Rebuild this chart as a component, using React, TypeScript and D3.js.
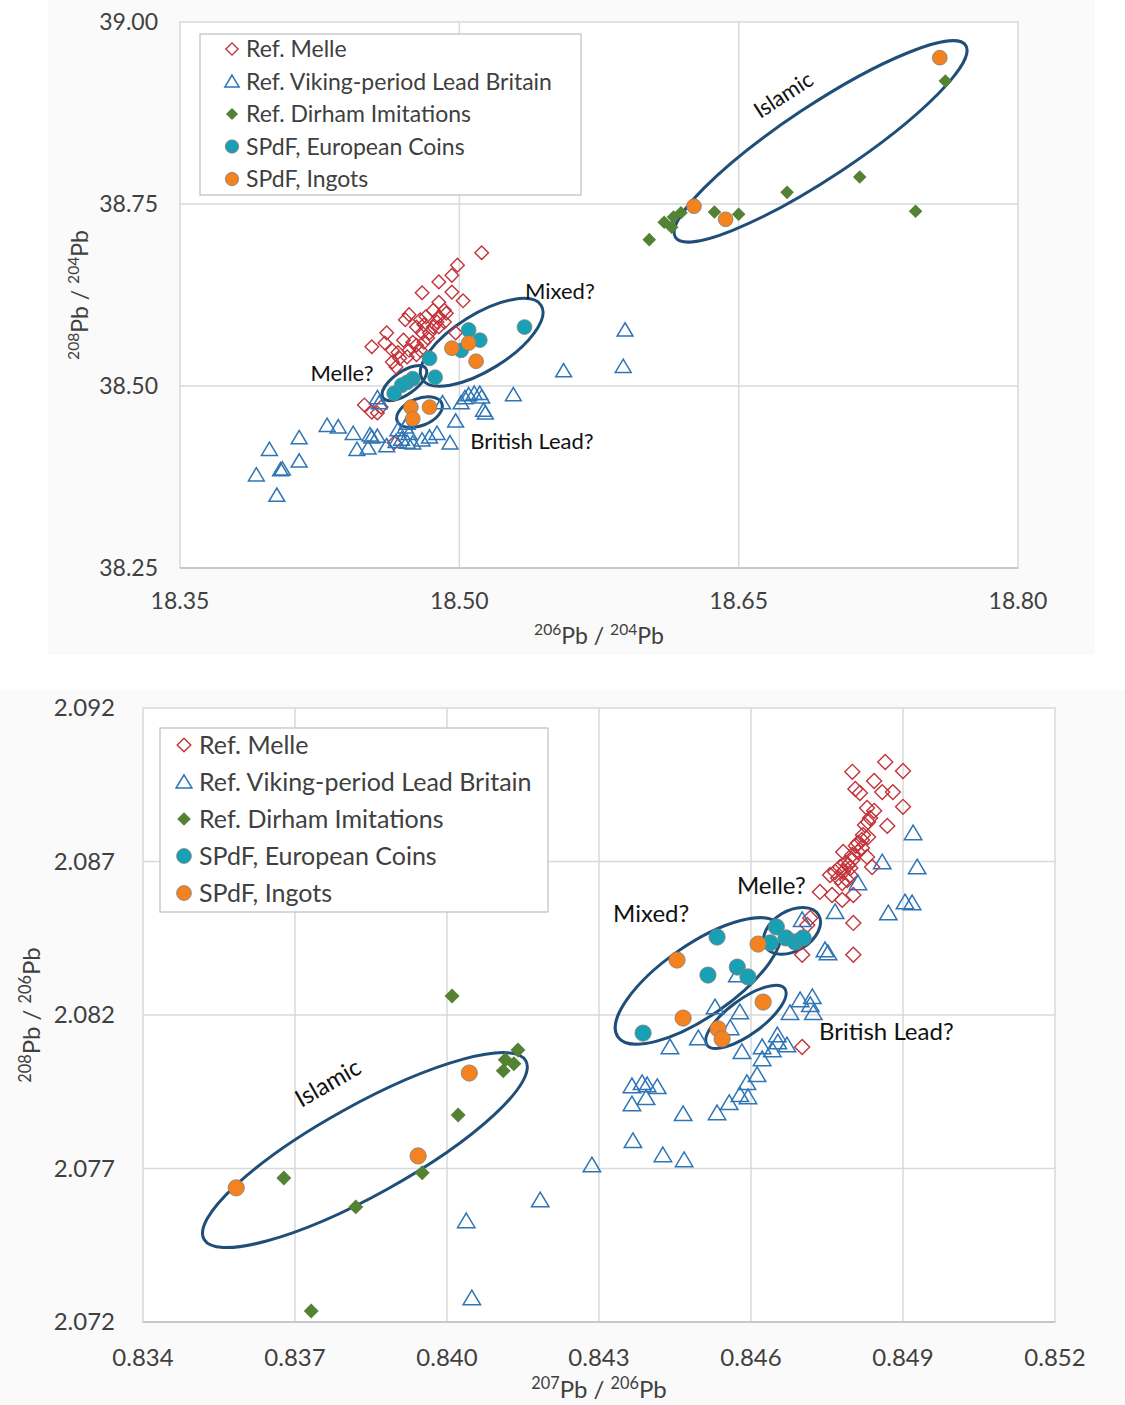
import React, { useEffect, useRef } from 'react';
import * as d3 from 'd3';

type Pt = [number, number];

// ---------- top chart: 208Pb/204Pb vs 206Pb/204Pb ----------
const topXTicks = [18.35, 18.5, 18.65, 18.8];
const topYTicks = [38.25, 38.5, 38.75, 39.0];

const topMelle: Pt[] = [
  [18.512, 38.683], [18.499, 38.666], [18.496, 38.652], [18.489, 38.643], [18.48, 38.628],
  [18.496, 38.629], [18.502, 38.617], [18.489, 38.615], [18.473, 38.598], [18.471, 38.591],
  [18.486, 38.604], [18.492, 38.604], [18.482, 38.595], [18.489, 38.595], [18.493, 38.6],
  [18.477, 38.581], [18.486, 38.581], [18.489, 38.581], [18.461, 38.573], [18.48, 38.573],
  [18.484, 38.573], [18.498, 38.573], [18.453, 38.554], [18.46, 38.559], [18.475, 38.56],
  [18.481, 38.56], [18.464, 38.549], [18.473, 38.549], [18.479, 38.549], [18.468, 38.538],
  [18.472, 38.54], [18.464, 38.533], [18.477, 38.543], [18.466, 38.526], [18.449, 38.474],
  [18.453, 38.464], [18.456, 38.463], [18.458, 38.471], [18.465, 38.422], [18.479, 38.591],
  [18.488, 38.588], [18.483, 38.566], [18.477, 38.556], [18.47, 38.563], [18.492, 38.588],
  [18.467, 38.546], [18.481, 38.584],
];
const topViking: Pt[] = [
  [18.391, 38.378], [18.398, 38.413], [18.402, 38.35], [18.405, 38.386], [18.404, 38.385],
  [18.414, 38.429], [18.414, 38.397], [18.429, 38.446], [18.435, 38.444], [18.443, 38.435],
  [18.445, 38.413], [18.451, 38.415], [18.452, 38.433], [18.453, 38.43], [18.456, 38.431],
  [18.461, 38.418], [18.466, 38.424], [18.467, 38.44], [18.469, 38.427], [18.472, 38.423],
  [18.473, 38.435], [18.475, 38.422], [18.48, 38.426], [18.484, 38.43], [18.488, 38.435],
  [18.495, 38.422], [18.498, 38.452], [18.491, 38.477], [18.501, 38.477], [18.503, 38.484],
  [18.505, 38.488], [18.508, 38.49], [18.511, 38.49], [18.512, 38.485], [18.513, 38.467],
  [18.514, 38.463], [18.529, 38.488], [18.456, 38.484], [18.457, 38.477], [18.471, 38.444],
  [18.472, 38.449], [18.556, 38.521], [18.589, 38.577], [18.588, 38.527],
];
const topDirham: Pt[] = [
  [18.602, 38.701], [18.61, 38.725], [18.614, 38.718], [18.615, 38.732], [18.619, 38.738],
  [18.637, 38.739], [18.65, 38.736], [18.676, 38.766], [18.715, 38.787], [18.745, 38.74],
  [18.761, 38.919],
];
const topCoins: Pt[] = [
  [18.505, 38.577], [18.511, 38.563], [18.501, 38.549], [18.484, 38.538], [18.487, 38.512],
  [18.535, 38.581], [18.475, 38.51], [18.472, 38.505], [18.469, 38.501], [18.465, 38.49],
];
const topIngots: Pt[] = [
  [18.626, 38.747], [18.643, 38.729], [18.758, 38.951], [18.496, 38.552], [18.505, 38.559],
  [18.509, 38.534], [18.474, 38.471], [18.484, 38.471], [18.475, 38.455],
];

// ---------- bottom chart: 208Pb/206Pb vs 207Pb/206Pb ----------
const botXTicks = [0.834, 0.837, 0.84, 0.843, 0.846, 0.849, 0.852];
const botYTicks = [2.072, 2.077, 2.082, 2.087, 2.092];

const botMelle: Pt[] = [
  [0.84865, 2.09024], [0.848, 2.08992], [0.849, 2.08995], [0.84843, 2.08962], [0.84806, 2.08936],
  [0.84815, 2.08923], [0.84859, 2.08926], [0.8488, 2.08926], [0.84829, 2.08874], [0.84843, 2.08865],
  [0.849, 2.08878], [0.84835, 2.08842], [0.84831, 2.08829], [0.84825, 2.08819], [0.84869, 2.08816],
  [0.84821, 2.08786], [0.84831, 2.0878], [0.84811, 2.0876], [0.84807, 2.08751], [0.84819, 2.08744],
  [0.84782, 2.08731], [0.848, 2.08721], [0.84829, 2.08715], [0.84786, 2.08695], [0.84776, 2.08682],
  [0.84796, 2.08679], [0.84839, 2.08682], [0.84766, 2.08666], [0.84782, 2.08666], [0.84796, 2.08656],
  [0.84756, 2.08656], [0.84772, 2.08646], [0.8479, 2.0864], [0.8478, 2.0863], [0.84736, 2.08601],
  [0.8476, 2.08591], [0.84802, 2.08591], [0.8478, 2.08575], [0.84802, 2.085], [0.84717, 2.08516],
  [0.84802, 2.08396], [0.84701, 2.08396], [0.84701, 2.08096], [0.84711, 2.08493], [0.848, 2.08705],
  [0.84811, 2.08731], [0.84792, 2.08689], [0.84819, 2.0877],
];
const botViking: Pt[] = [
  [0.8492, 2.08793], [0.84928, 2.08682], [0.84859, 2.08698], [0.84811, 2.0863], [0.84904, 2.08568],
  [0.84918, 2.08565], [0.84871, 2.08532], [0.84766, 2.08536], [0.84701, 2.0851], [0.84746, 2.08412],
  [0.84752, 2.08402], [0.84721, 2.08259], [0.84717, 2.08233], [0.84697, 2.08249], [0.84723, 2.08207],
  [0.84677, 2.08207], [0.84529, 2.08226], [0.84578, 2.0821], [0.84559, 2.08158], [0.84496, 2.08125],
  [0.8444, 2.08096], [0.84582, 2.0808], [0.84622, 2.08096], [0.84652, 2.08135], [0.84653, 2.08112],
  [0.84671, 2.08102], [0.84642, 2.08086], [0.84622, 2.08057], [0.84612, 2.08005], [0.84592, 2.07979],
  [0.84594, 2.07933], [0.84578, 2.0794], [0.84557, 2.07914], [0.84533, 2.07881], [0.84466, 2.07878],
  [0.84365, 2.07969], [0.84385, 2.07979], [0.84395, 2.07972], [0.84415, 2.07966], [0.84365, 2.0791],
  [0.84393, 2.0793], [0.84367, 2.0779], [0.84426, 2.07744], [0.84468, 2.07728], [0.84286, 2.07711],
  [0.84184, 2.07597], [0.84038, 2.07529], [0.84049, 2.07278], [0.84573, 2.0833],
];
const botDirham: Pt[] = [
  [0.8401, 2.08262], [0.8414, 2.08086], [0.84115, 2.08054], [0.84132, 2.08041], [0.84111, 2.08018],
  [0.84022, 2.07874], [0.83678, 2.07669], [0.83951, 2.07686], [0.8382, 2.07575], [0.83732, 2.07236],
];
const botCoins: Pt[] = [
  [0.84533, 2.08454], [0.8465, 2.08487], [0.84638, 2.08435], [0.84669, 2.08451], [0.84687, 2.08438],
  [0.84703, 2.08451], [0.84573, 2.08356], [0.84515, 2.0833], [0.84594, 2.08324], [0.84387, 2.08141],
];
const botIngots: Pt[] = [
  [0.84044, 2.08011], [0.83943, 2.07741], [0.83584, 2.07637], [0.84614, 2.08431], [0.84454, 2.08379],
  [0.84466, 2.0819], [0.84624, 2.08242], [0.84535, 2.08155], [0.84543, 2.08122],
];

const seriesNames = [
  'Ref. Melle',
  'Ref. Viking-period Lead Britain',
  'Ref. Dirham Imitations',
  'SPdF, European Coins',
  'SPdF, Ingots',
];

// group annotations: ellipse centre and label anchor in data units
const topGroups = [
  { name: 'Islamic', c: [18.694, 38.836], l: [18.674, 38.9] },
  { name: 'Mixed?', c: [18.512, 38.56], l: [18.554, 38.63] },
  { name: 'Melle?', c: [18.4705, 38.504], l: [18.437, 38.518] },
  { name: 'British Lead?', c: [18.4786, 38.464], l: [18.539, 38.424] },
];
const botGroups = [
  { name: 'Islamic', c: [0.83838, 2.0776], l: [0.83765, 2.07979] },
  { name: 'Mixed?', c: [0.84496, 2.08311], l: [0.84403, 2.08529] },
  { name: 'Melle?', c: [0.84681, 2.08474], l: [0.8464, 2.0862] },
  { name: 'British Lead?', c: [0.8459, 2.08194], l: [0.84867, 2.08145] },
];

const COLORS = ['#C3323A', '#2E75B6', '#548235', '#18A0B4', '#F4821F'];
const FONT = 'Lato, "Open Sans", sans-serif';

const diamond = (s: number) => `M0,${-s}L${s},0L0,${s}L${-s},0Z`;
const triangle = (s: number) => `M0,${-s}L${s * 1.1},${s * 0.85}L${-s * 1.1},${s * 0.85}Z`;

function drawMarker(sel: any, i: number, k: number) {
  if (i === 0) {
    sel.append('path').attr('d', diamond(6.8 * k)).attr('fill', 'none')
      .attr('stroke', COLORS[0]).attr('stroke-width', 1.4);
  } else if (i === 1) {
    sel.append('path').attr('d', triangle(7.2 * k)).attr('fill', 'none')
      .attr('stroke', COLORS[1]).attr('stroke-width', 1.5);
  } else if (i === 2) {
    sel.append('path').attr('d', diamond(6.8 * k)).attr('fill', COLORS[2]).attr('stroke', 'none');
  } else {
    sel.append('circle').attr('r', 7.4 * k).attr('fill', COLORS[i])
      .attr('stroke', '#7f7f7f').attr('stroke-width', 0.8);
  }
}

function drawChart(svg: any, cfg: any) {
  const x = d3.scaleLinear().domain(cfg.xDomain).range([cfg.left, cfg.right]);
  const y = d3.scaleLinear().domain(cfg.yDomain).range([cfg.bottom, cfg.top]);
  const g = svg.append('g');
  const k = cfg.k;

  g.append('rect').attr('x', cfg.panel[0]).attr('y', cfg.panel[1])
    .attr('width', cfg.panel[2]).attr('height', cfg.panel[3]).attr('fill', '#fafafa');
  g.append('rect').attr('x', cfg.left).attr('y', cfg.top)
    .attr('width', cfg.right - cfg.left).attr('height', cfg.bottom - cfg.top)
    .attr('fill', '#fff').attr('stroke', '#d9d9d9').attr('stroke-width', 1.5);

  g.selectAll('.vg').data(cfg.xTicks.slice(1, -1)).join('line')
    .attr('x1', (d: number) => x(d)).attr('x2', (d: number) => x(d))
    .attr('y1', cfg.top).attr('y2', cfg.bottom)
    .attr('stroke', '#d9d9d9').attr('stroke-width', 1.5);
  g.selectAll('.hg').data(cfg.yTicks.slice(1, -1)).join('line')
    .attr('y1', (d: number) => y(d)).attr('y2', (d: number) => y(d))
    .attr('x1', cfg.left).attr('x2', cfg.right)
    .attr('stroke', '#d9d9d9').attr('stroke-width', 1.5);
  g.append('line').attr('x1', cfg.left).attr('x2', cfg.right)
    .attr('y1', cfg.bottom).attr('y2', cfg.bottom).attr('stroke', '#bfbfbf').attr('stroke-width', 1.5);

  const fmt = d3.format(cfg.fmt);
  g.selectAll('.xt').data(cfg.xTicks).join('text')
    .attr('x', (d: number) => x(d)).attr('y', cfg.bottom + cfg.xTickGap)
    .attr('text-anchor', 'middle').attr('font-family', FONT).attr('font-size', cfg.tickSize)
    .attr('fill', '#404040').text((d: number) => fmt(d));
  g.selectAll('.yt').data(cfg.yTicks).join('text')
    .attr('x', cfg.left - cfg.yTickGap).attr('y', (d: number) => y(d))
    .attr('dy', '0.35em').attr('text-anchor', 'end').attr('font-family', FONT)
    .attr('font-size', cfg.tickSize).attr('fill', '#404040').text((d: number) => fmt(d));

  const title = (t: any, parts: string[]) => {
    const sup = cfg.tickSize * 0.68;
    t.append('tspan').attr('font-size', sup).attr('dy', -cfg.tickSize * 0.38).text(parts[0]);
    t.append('tspan').attr('dy', cfg.tickSize * 0.38).text(parts[1]);
    t.append('tspan').attr('font-size', sup).attr('dy', -cfg.tickSize * 0.38).text(parts[2]);
    t.append('tspan').attr('dy', cfg.tickSize * 0.38).text(parts[3]);
  };
  const xt = g.append('text').attr('x', (cfg.left + cfg.right) / 2).attr('y', cfg.xTitleY)
    .attr('text-anchor', 'middle').attr('font-family', FONT).attr('font-size', cfg.tickSize)
    .attr('fill', '#404040');
  title(xt, cfg.xTitle);
  const yt = g.append('text')
    .attr('transform', `translate(${cfg.yTitleX},${(cfg.top + cfg.bottom) / 2}) rotate(-90)`)
    .attr('text-anchor', 'middle').attr('font-family', FONT).attr('font-size', cfg.tickSize)
    .attr('fill', '#404040');
  title(yt, cfg.yTitle);

  // ellipses + labels
  cfg.groups.forEach((gr: any, i: number) => {
    const e = cfg.ellipses[i];
    const cx = x(gr.c[0]);
    const cy = y(gr.c[1]);
    g.append('ellipse').attr('cx', cx).attr('cy', cy).attr('rx', e[0]).attr('ry', e[1])
      .attr('transform', `rotate(${e[2]},${cx},${cy})`)
      .attr('fill', 'none').attr('stroke', '#1F4E79').attr('stroke-width', 3);
    const lx = x(gr.l[0]);
    const ly = y(gr.l[1]);
    g.append('text').attr('transform', `translate(${lx},${ly}) rotate(${e[3]})`)
      .attr('text-anchor', 'middle').attr('dy', '0.35em').attr('font-family', FONT)
      .attr('font-size', cfg.labelSize).attr('fill', '#111').text(gr.name);
  });

  cfg.series.forEach((pts: Pt[], i: number) => {
    const s = g.append('g');
    pts.forEach((p) => {
      const m = s.append('g').attr('transform', `translate(${x(p[0])},${y(p[1])})`);
      drawMarker(m, i, k);
    });
  });

  // legend
  const L = cfg.legend;
  g.append('rect').attr('x', L.x).attr('y', L.y).attr('width', L.w).attr('height', L.h)
    .attr('fill', '#fff').attr('stroke', '#bfbfbf').attr('stroke-width', 1.2);
  seriesNames.forEach((name, i) => {
    const ry = L.y + L.first + i * L.step;
    const m = g.append('g').attr('transform', `translate(${L.mx},${ry})`);
    drawMarker(m, i, L.mk);
    g.append('text').attr('x', L.tx).attr('y', ry).attr('dy', '0.35em')
      .attr('font-family', FONT).attr('font-size', L.size).attr('fill', '#404040').text(name);
  });
}

const App = () => {
  const ref = useRef<SVGSVGElement>(null);

  useEffect(() => {
    const svg = d3.select(ref.current);
    svg.selectAll('*').remove();

    drawChart(svg, {
      panel: [48, 0, 1047, 655],
      left: 180, right: 1018, top: 22, bottom: 568,
      xDomain: [18.35, 18.8], yDomain: [38.25, 39.0],
      xTicks: topXTicks, yTicks: topYTicks, fmt: '.2f',
      tickSize: 23, xTickGap: 41, yTickGap: 22, xTitleY: 644, yTitleX: 88,
      xTitle: ['206', 'Pb / ', '204', 'Pb'], yTitle: ['208', 'Pb / ', '204', 'Pb'],
      labelSize: 22, k: 1,
      groups: topGroups,
      ellipses: [[174, 36, -33.5, -33], [70, 28, -31.8, 0], [26, 11.5, -34.8, 0], [24, 13.5, -21.6, 0]],
      series: [topMelle, topViking, topDirham, topCoins, topIngots],
      legend: { x: 200, y: 34, w: 381, h: 161, first: 15, step: 32.5, mx: 232, tx: 246, size: 23, mk: 0.9 },
    });

    drawChart(svg, {
      panel: [0, 690, 1125, 715],
      left: 143, right: 1055, top: 708, bottom: 1322,
      xDomain: [0.834, 0.852], yDomain: [2.072, 2.092],
      xTicks: botXTicks, yTicks: botYTicks, fmt: '.3f',
      tickSize: 24, xTickGap: 44, yTickGap: 28, xTitleY: 1398, yTitleX: 40,
      xTitle: ['207', 'Pb / ', '206', 'Pb'], yTitle: ['208', 'Pb / ', '206', 'Pb'],
      labelSize: 24, k: 1.1,
      groups: botGroups,
      ellipses: [[184, 45, -29, -30], [98, 36, -34.8, 0], [31, 20, -31, 0], [48, 17.5, -36, 0]],
      series: [botMelle, botViking, botDirham, botCoins, botIngots],
      legend: { x: 160, y: 728, w: 388, h: 184, first: 17, step: 37, mx: 184, tx: 199, size: 25, mk: 1 },
    });
  }, []);

  return (
    <svg
      ref={ref}
      width={1125}
      height={1405}
      style={{ position: 'absolute', left: 0, top: 0, background: '#fff' }}
    />
  );
};

export default App;
